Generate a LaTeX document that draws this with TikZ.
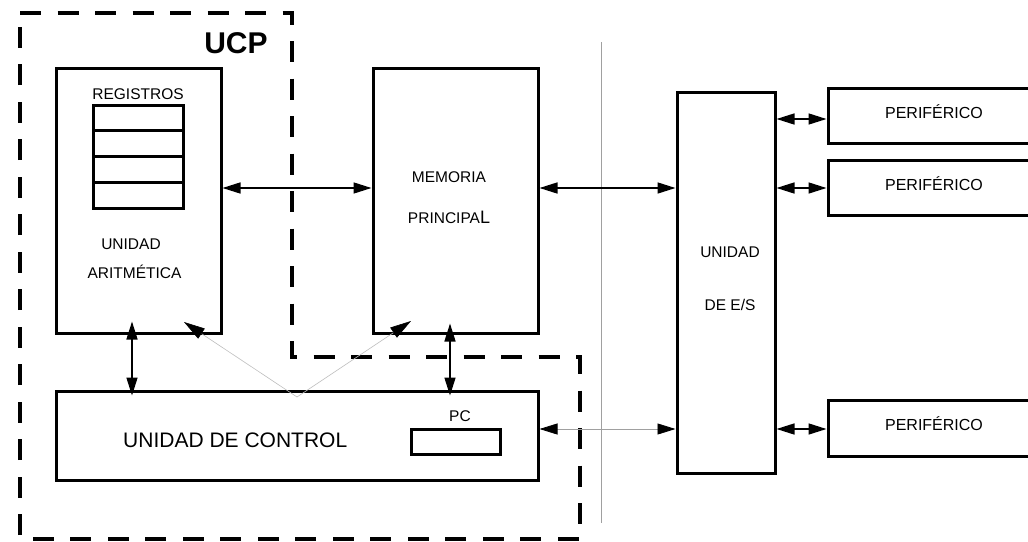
\documentclass[tikz,border=0pt]{standalone}
\usepackage{fontspec}
\setmainfont{Liberation Sans}
\usetikzlibrary{arrows.meta}
\definecolor{ink}{RGB}{0,0,0}
\definecolor{rulegray}{RGB}{160,160,160}
\definecolor{linkgray}{RGB}{190,190,190}
\tikzset{
  unit/.style={draw=ink, line width=3pt, inner sep=0pt},
  lbl/.style={font=\fontsize{15.5}{18}\selectfont, text=ink, inner sep=0pt, anchor=base},
  arr/.style={{Triangle[length=18pt,width=11pt]}-{Triangle[length=18pt,width=11pt]},
              line width=1.5pt, draw=ink},
  garr/.style={{Triangle[length=18pt,width=11pt,color=ink]}-{Triangle[length=18pt,width=11pt,color=ink]},
              line width=0.8pt, draw=rulegray},
  darr/.style={-{Triangle[length=21pt,width=12pt,color=ink]}, line width=0.6pt, draw=linkgray},
  ucp/.style={line width=4pt, dash pattern=on 21pt off 16.5pt},
}

\begin{document}
\begin{tikzpicture}[x=1pt, y=-1pt]
  \clip (0,0) rectangle (1028,541);

  % CPU frame
  \draw[ucp] (20,13) -- (292,13) -- (292,357) -- (580,357) -- (580,539) -- (20,539) -- cycle;
  \node[font=\fontsize{30}{30}\selectfont\bfseries, anchor=base, inner sep=0pt] (tucp) at (236,53) {UCP};

  % bus separator
  \draw[rulegray, line width=1pt] (601,42) -- (601,523);

  % units
  \node[unit, minimum width=165pt, minimum height=265pt] (alu) at (138.5,200.5) {};
  \node[unit, minimum width=165pt, minimum height=265pt] (mem) at (455.5,200.5) {};
  \node[unit, minimum width=98pt, minimum height=381pt]  (es)  at (726,282.5) {};
  \node[unit, minimum width=482pt, minimum height=89pt]  (uc)  at (297,435.5) {};
  \node[unit, minimum width=89pt, minimum height=25pt]   (pc)  at (455.5,441.5) {};
  \foreach \i in {1,...,4}
    \node[unit, minimum width=90pt, minimum height=25.75pt] (r\i) at (138,92.125+25.75*\i) {};
  \node[unit, minimum width=230pt, minimum height=55pt] (per1) at (943,115.5) {};
  \node[unit, minimum width=230pt, minimum height=55pt] (per2) at (943,187.5) {};
  \node[unit, minimum width=230pt, minimum height=56pt] (per3) at (943,428.5) {};

  % texts
  \node[lbl] (treg)  at (138,99)   {REGISTROS};
  \node[lbl] (talu1) at (131,249)  {UNIDAD};
  \node[lbl] (talu2) at (134.5,278) {ARITMÉTICA};
  \node[lbl] (tmem1) at (449,182)  {MEMORIA};
  \node[lbl] (tmem2) at (449,223)  {PRINCIPA{\fontsize{18}{18}\selectfont L}};
  \node[lbl] (tes1)  at (730,257)  {UNIDAD};
  \node[lbl] (tes2)  at (730,310)  {DE E/S};
  \node[lbl] (tpc)   at (460,421)  {PC};
  \node[lbl, anchor=base west, font=\fontsize{21}{24}\selectfont] (tuc) at (123,447) {UNIDAD DE CONTROL};
  \node[lbl, font=\fontsize{16}{18}\selectfont] (tper1) at (934,118) {PERIFÉRICO};
  \node[lbl, font=\fontsize{16}{18}\selectfont] (tper2) at (934,190) {PERIFÉRICO};
  \node[lbl, font=\fontsize{16}{18}\selectfont] (tper3) at (934,430) {PERIFÉRICO};

  % data paths
  \draw[arr] (alu.east |- 0,188) -- (mem.west |- 0,188);
  \draw[arr] (mem.east |- 0,188) -- (es.west |- 0,188);
  \draw[arr] (es.east |- 0,119) -- (per1.west |- 0,119);
  \draw[arr] (es.east |- 0,188) -- (per2.west |- 0,188);
  \draw[arr] (es.east |- 0,429) -- (per3.west |- 0,429);
  \draw[arr, shorten <=-13pt, shorten >=-6pt] (alu.south -| 132,0) -- (uc.north -| 132,0);
  \draw[arr, shorten <=-11pt, shorten >=-6pt] (mem.south -| 450,0) -- (uc.north -| 450,0);
  \draw[garr] (es.west |- 0,429) -- (uc.east |- 0,429);

  % control lines
  \coordinate (vtip) at (297,397);
  \coordinate (alutip) at (184,322);
  \coordinate (memtip) at (411,321);
  \draw[darr] (vtip) -- (alutip);
  \draw[darr] (vtip) -- (memtip);
\end{tikzpicture}
\end{document}
